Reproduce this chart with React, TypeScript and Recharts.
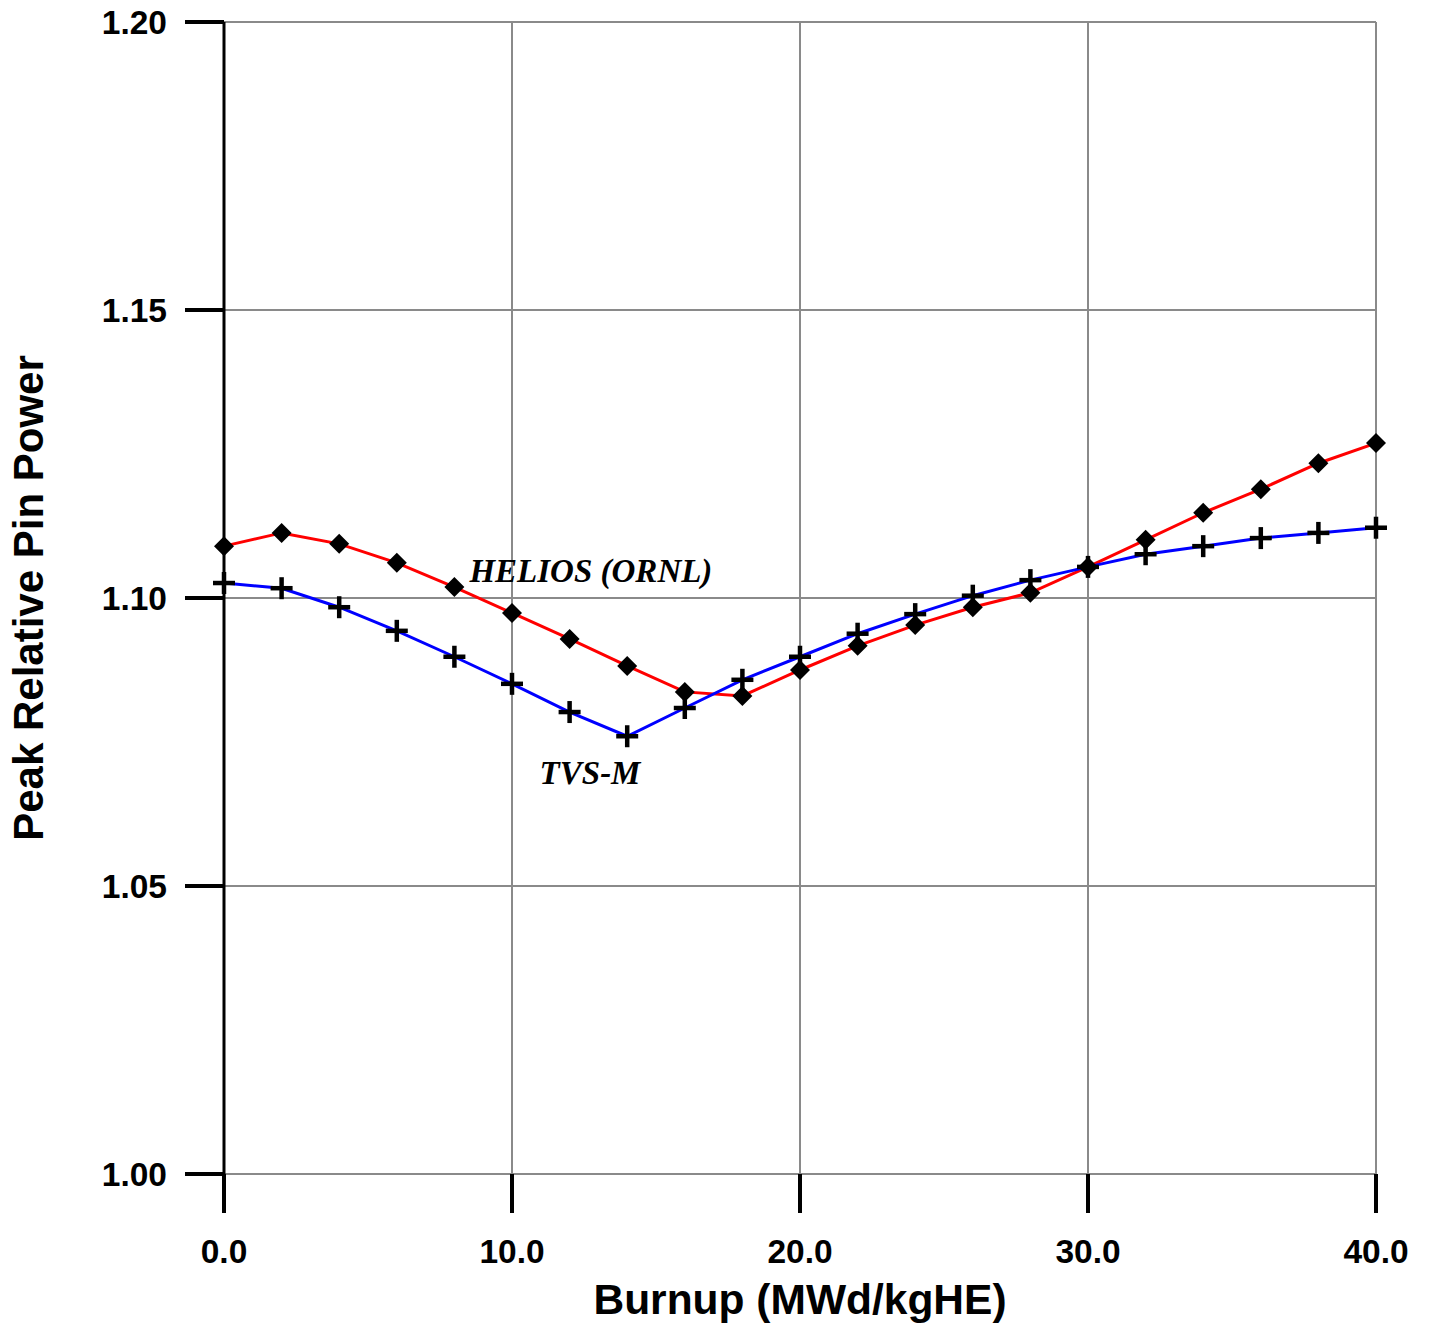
import React from "react";
import { LineChart, Line, XAxis, YAxis, CartesianGrid, ReferenceDot } from "recharts";

const burnup = [0, 2, 4, 6, 8, 10, 12, 14, 16, 18, 20, 22, 24, 26, 28, 30, 32, 34, 36, 38, 40];
const helios = [1.1090, 1.1113, 1.1094, 1.1061, 1.1019, 1.0974, 1.0929, 1.0882, 1.0837, 1.0830, 1.0875, 1.0917, 1.0953, 1.0984, 1.1009, 1.1054, 1.1101, 1.1148, 1.1189, 1.1234, 1.1269];
const tvsm = [1.1026, 1.1017, 1.0984, 1.0943, 1.0898, 1.0851, 1.0802, 1.0760, 1.0809, 1.0858, 1.0898, 1.0938, 1.0972, 1.1004, 1.1031, 1.1054, 1.1076, 1.1090, 1.1104, 1.1113, 1.1122];
const xTicks = [0, 10, 20, 30, 40];
const yTicks = [1.0, 1.05, 1.1, 1.15, 1.2];

const data = burnup.map((b, i) => ({ b, helios: helios[i], tvsm: tvsm[i] }));

const Diamond = (props: any) => {
  const { cx, cy } = props;
  if (cx == null || cy == null) return null;
  const r = 10;
  return <path d={`M${cx},${cy - r}L${cx + r},${cy}L${cx},${cy + r}L${cx - r},${cy}Z`} fill="#000" />;
};

const Plus = (props: any) => {
  const { cx, cy } = props;
  if (cx == null || cy == null) return null;
  const r = 11;
  return (
    <g stroke="#000" strokeWidth={4.5}>
      <line x1={cx - r} y1={cy} x2={cx + r} y2={cy} />
      <line x1={cx} y1={cy - r} x2={cx} y2={cy + r} />
    </g>
  );
};

const sans = "Liberation Sans, Arial, sans-serif";
const tickFont = { fontFamily: sans, fontWeight: 700, fontSize: 33.5, fill: "#000" };

const YTitle = (props: any) => {
  const vb = props.viewBox || {};
  const cx = 43;
  const cy = vb.y + vb.height / 2;
  return (
    <text x={cx} y={cy} transform={`rotate(-90 ${cx} ${cy})`} textAnchor="middle"
      style={{ fontFamily: sans, fontWeight: 700, fontSize: 42, fill: "#000" }}>
      Peak Relative Pin Power
    </text>
  );
};

const Annot = (text: string) => (props: any) => {
  const { cx, cy } = props;
  return (
    <text x={cx} y={cy} textAnchor="middle" dominantBaseline="central"
      style={{ fontFamily: "Liberation Serif, Times New Roman, serif", fontWeight: 700, fontStyle: "italic", fontSize: 33, fill: "#000" }}>
      {text}
    </text>
  );
};

export default function App() {
  return (
    <div style={{ position: "absolute", left: 0, top: 0 }}>
      <LineChart width={1429} height={1323} data={data} margin={{ top: 22, right: 53, left: 0, bottom: 0 }}>
        <CartesianGrid stroke="#8a8a8a" strokeWidth={2} horizontalValues={yTicks} verticalValues={xTicks} />
        <XAxis
          dataKey="b"
          type="number"
          domain={[0, 40]}
          ticks={xTicks}
          tickFormatter={(v: number) => v.toFixed(1)}
          axisLine={false}
          tickLine={{ stroke: "#000", strokeWidth: 4 }}
          tickSize={39}
          tickMargin={26}
          height={149}
          tick={tickFont}
          interval={0}
          label={{ value: "Burnup (MWd/kgHE)", position: "insideBottom", offset: 9, style: { fontFamily: sans, fontWeight: 700, fontSize: 42.5, fill: "#000" } }}
        />
        <YAxis
          type="number"
          domain={[1.0, 1.2]}
          ticks={yTicks}
          tickFormatter={(v: number) => v.toFixed(2)}
          axisLine={{ stroke: "#000", strokeWidth: 3 }}
          tickLine={{ stroke: "#000", strokeWidth: 4 }}
          tickSize={39}
          tickMargin={18}
          width={224}
          tick={tickFont}
          interval={0}
          allowDataOverflow
          label={<YTitle />}
        />
        <Line dataKey="helios" stroke="#ff0000" strokeWidth={3} dot={<Diamond />} isAnimationActive={false} />
        <Line dataKey="tvsm" stroke="#0000ff" strokeWidth={3} dot={<Plus />} isAnimationActive={false} />
        <ReferenceDot x={12.74} y={1.1047} r={0} shape={Annot("HELIOS (ORNL)")} />
        <ReferenceDot x={12.71} y={1.0696} r={0} shape={Annot("TVS-M")} />
      </LineChart>
    </div>
  );
}
